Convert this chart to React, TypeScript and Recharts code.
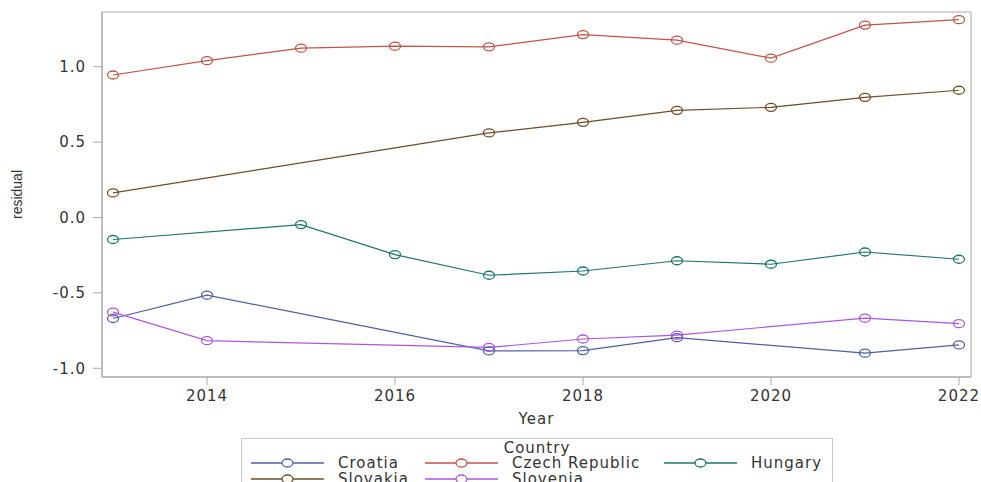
import { LineChart, Line, XAxis, YAxis, ReferenceArea } from 'recharts'

const years = [2013, 2014, 2015, 2016, 2017, 2018, 2019, 2020, 2021, 2022]

// residuals per country, null where the year is missing
const croatia = [-0.67, -0.515, null, null, -0.885, -0.883, -0.797, null, -0.9, -0.845]
const czech = [0.945, 1.04, 1.123, 1.136, 1.132, 1.213, 1.176, 1.057, 1.276, 1.312]
const hungary = [-0.146, null, -0.047, -0.246, -0.383, -0.355, -0.287, -0.31, -0.229, -0.277]
const slovakia = [0.163, null, null, null, 0.561, 0.631, 0.711, 0.731, 0.797, 0.844]
const slovenia = [-0.628, -0.817, null, null, -0.862, -0.806, -0.78, null, -0.668, -0.704]

const xTicks = [2014, 2016, 2018, 2020, 2022]
const yTicks = [-1, -0.5, 0, 0.5, 1]
const xDomain = [2012.883, 2022.128]
const yDomain = [-1.058, 1.363]

const series = [
  { key: 'Croatia', values: croatia, color: '#4f60a0' },
  { key: 'Czech Republic', values: czech, color: '#c0534a' },
  { key: 'Hungary', values: hungary, color: '#1e756e' },
  { key: 'Slovakia', values: slovakia, color: '#6f4c28' },
  { key: 'Slovenia', values: slovenia, color: '#ad55e2' },
]

const data = years.map((year, i) => {
  const row: Record<string, number | null> = { year }
  series.forEach((s) => {
    row[s.key] = s.values[i]
  })
  return row
})

const axisGray = '#a8a8a8'
const tickFont = { fontFamily: 'DejaVu Sans', fontSize: 15, letterSpacing: 1, fill: '#333' }

// legend rows as laid out in the SAS legend box
const legendRows = [
  ['Croatia', 'Czech Republic', 'Hungary'],
  ['Slovakia', 'Slovenia'],
]
const legendCols = [251, 425, 664]

// the source image is stretched sideways, so the circle markers come out as ellipses
function makeDot(color: string) {
  return (props: any) => {
    const { cx, cy, index, value } = props
    if (value == null || cy == null || cx == null) return <g key={`e-${index}`} />
    return (
      <ellipse
        key={`d-${index}`}
        cx={cx}
        cy={cy}
        rx={5.5}
        ry={4}
        fill="none"
        stroke={color}
        strokeWidth={1.3}
      />
    )
  }
}

function LegendBox() {
  return (
    <div
      style={{
        position: 'absolute',
        left: 241,
        top: 438,
        width: 592,
        height: 60,
        boxSizing: 'border-box',
        border: '1px solid #c8c8c8',
        fontFamily: 'DejaVu Sans',
        fontSize: 15,
        letterSpacing: 1,
        color: '#333',
      }}
    >
      <div style={{ position: 'absolute', left: 0, width: '100%', top: 0, textAlign: 'center', lineHeight: '18px' }}>
        Country
      </div>
      {legendRows.map((row, r) =>
        row.map((name, c) => {
          const s = series.find((d) => d.key === name)!
          return (
            <div
              key={name}
              style={{
                position: 'absolute',
                left: legendCols[c] - 242,
                top: 15 + r * 16,
                height: 18,
                display: 'flex',
                alignItems: 'center',
                whiteSpace: 'nowrap',
              }}
            >
              <svg width={73} height={12} style={{ marginRight: 14 }}>
                <line x1={0} x2={73} y1={6} y2={6} stroke={s.color} strokeWidth={1.3} />
                <ellipse cx={36.5} cy={6} rx={5.5} ry={4} fill="#fff" stroke={s.color} strokeWidth={1.3} />
              </svg>
              <span style={{ lineHeight: '18px' }}>{name}</span>
            </div>
          )
        })
      )}
    </div>
  )
}

export default function App() {
  return (
    <div style={{ position: 'absolute', left: 0, top: 0, width: 981, height: 482, overflow: 'hidden', background: '#fff' }}>
      <LineChart width={981} height={482} data={data} margin={{ top: 12, right: 10, left: 0, bottom: 55 }}>
        <ReferenceArea
          x1={xDomain[0]}
          x2={xDomain[1]}
          y1={yDomain[0]}
          y2={yDomain[1]}
          fill="none"
          stroke={axisGray}
          strokeWidth={1}
          ifOverflow="visible"
        />
        <XAxis
          dataKey="year"
          type="number"
          domain={xDomain}
          ticks={xTicks}
          allowDataOverflow
          height={50}
          tickSize={8}
          tickMargin={5}
          stroke={axisGray}
          tick={tickFont}
          label={{
            content: ({ viewBox }: any) => (
              <text
                x={viewBox.x + viewBox.width / 2}
                y={viewBox.y + 47}
                textAnchor="middle"
                fontFamily="DejaVu Sans"
                fontSize={15}
                letterSpacing={1}
                fill="#333"
              >
                Year
              </text>
            ),
          }}
        />
        <YAxis
          type="number"
          domain={yDomain}
          ticks={yTicks}
          allowDataOverflow
          width={102}
          tickSize={9}
          tickMargin={7}
          stroke={axisGray}
          tick={tickFont}
          tickFormatter={(v: number) => v.toFixed(1)}
          label={{
            content: ({ viewBox }: any) => {
              const x = viewBox.x + 22
              const y = viewBox.y + viewBox.height / 2
              return (
                <text
                  x={x}
                  y={y}
                  transform={`rotate(-90 ${x} ${y})`}
                  textAnchor="middle"
                  fontFamily="Liberation Sans"
                  fontSize={14}
                  fill="#333"
                >
                  residual
                </text>
              )
            },
          }}
        />
        {series.map((s) => (
          <Line
            key={s.key}
            type="linear"
            dataKey={s.key}
            stroke={s.color}
            strokeWidth={1.2}
            connectNulls
            dot={makeDot(s.color)}
            activeDot={false}
            isAnimationActive={false}
          />
        ))}
      </LineChart>
      <LegendBox />
    </div>
  )
}
